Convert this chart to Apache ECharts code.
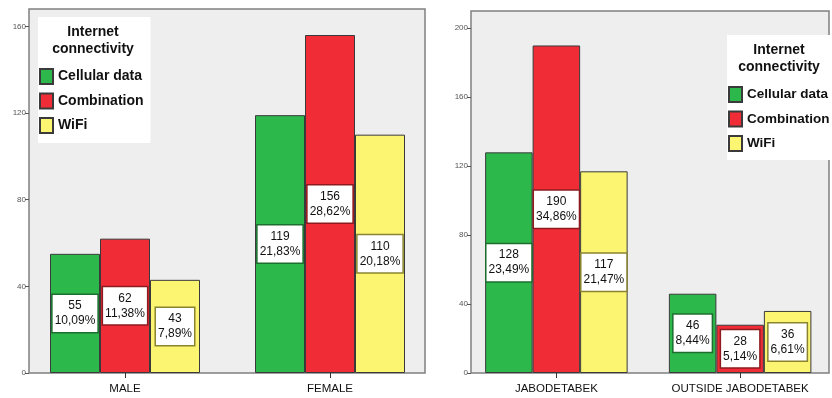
<!DOCTYPE html>
<html><head><meta charset="utf-8">
<script src="https://cdn.jsdelivr.net/npm/echarts@6/dist/echarts.min.js"></script>
<style>html,body{margin:0;padding:0;background:#fff}#c{width:832px;height:398px}</style>
</head><body><div id="c"></div>
<script>
const seriesNames = ['Cellular data', 'Combination', 'WiFi'];

const genderCats = ['MALE', 'FEMALE'];
const genderCellular = [55, 119];
const genderCombination = [62, 156];
const genderWifi = [43, 110];
const genderCellularPct = ['10,09%', '21,83%'];
const genderCombinationPct = ['11,38%', '28,62%'];
const genderWifiPct = ['7,89%', '20,18%'];
const genderTicks = [0, 40, 80, 120, 160];

const regionCats = ['JABODETABEK', 'OUTSIDE JABODETABEK'];
const regionCellular = [128, 46];
const regionCombination = [190, 28];
const regionWifi = [117, 36];
const regionCellularPct = ['23,49%', '8,44%'];
const regionCombinationPct = ['34,86%', '5,14%'];
const regionWifiPct = ['21,47%', '6,61%'];
const regionTicks = [0, 40, 80, 120, 160, 200];

const FONT = '"Liberation Sans", Arial, sans-serif';
const fills = ['#2db84b', '#f02d37', '#fbf571'];
const labelBorders = ['#1d6e2e', '#8e1a1f', '#8a8431'];

function makeSeries(idx, values, pcts, panel, barWidth) {
  return {
    name: seriesNames[idx],
    type: 'bar',
    xAxisIndex: panel,
    yAxisIndex: panel,
    data: values,
    barWidth: barWidth,
    barGap: '0%',
    itemStyle: { color: fills[idx], borderColor: '#3a3a3a', borderWidth: 1 },
    label: {
      show: true,
      position: 'inside',
      formatter: p => p.value + '\n' + pcts[p.dataIndex],
      backgroundColor: '#fff',
      borderColor: labelBorders[idx],
      borderWidth: 1.5,
      padding: [4, 2, 3, 2],
      fontSize: 12,
      lineHeight: 15,
      color: '#111',
      fontFamily: FONT,
      align: 'center'
    }
  };
}

function xAx(panel, cats) {
  return {
    type: 'category', gridIndex: panel, data: cats,
    axisLine: { show: false },
    axisTick: { show: true, alignWithLabel: true, length: 5, lineStyle: { color: '#333' } },
    axisLabel: { interval: 0, fontSize: 11.5, color: '#111', margin: 10, fontFamily: FONT }
  };
}
function yAx(panel, max, ticks) {
  return {
    type: 'value', gridIndex: panel, min: 0, max: max, offset: -6.5,
    axisLine: { show: false },
    splitLine: { show: false },
    axisTick: { show: true, length: 4, customValues: ticks, lineStyle: { color: '#555' } },
    axisLabel: { customValues: ticks, fontSize: 8, color: '#555', margin: 3, fontFamily: FONT }
  };
}

const titleStyle = { fontSize: 14, fontWeight: 'bold', lineHeight: 17, fontFamily: FONT, color: '#111' };
const legendBase = {
  orient: 'vertical', data: seriesNames, backgroundColor: '#fff', icon: 'rect',
  itemWidth: 13, itemHeight: 15, itemGap: 7.5,
  textStyle: { fontSize: 14, fontWeight: 'bold', color: '#111', fontFamily: FONT }
};

const chart = echarts.init(document.getElementById('c'), null, { renderer: 'canvas' });
chart.setOption({
  animation: false,
  backgroundColor: '#fff',
  graphic: [
    { type: 'rect', z: -1, shape: { x: 29, y: 9, width: 396, height: 364 }, style: { fill: '#eeeeee', stroke: '#808080', lineWidth: 1.5 } },
    { type: 'rect', z: -1, shape: { x: 471, y: 11, width: 358, height: 362 }, style: { fill: '#eeeeee', stroke: '#808080', lineWidth: 1.5 } }
  ],
  title: [
    { text: 'Internet\nconnectivity', left: 93, top: 24, textAlign: 'center', padding: 0, textStyle: titleStyle },
    { text: 'Internet\nconnectivity', left: 779, top: 42, textAlign: 'center', padding: 0, textStyle: titleStyle }
  ],
  legend: [
    Object.assign({}, legendBase, { left: 38, top: 17, padding: [51, 7, 9, 1] }),
    Object.assign({}, legendBase, { left: 727, top: 35, padding: [51, 4, 8, 1],
      textStyle: { fontSize: 13.5, fontWeight: 'bold', color: '#111', fontFamily: FONT } })
  ],
  grid: [
    { left: 22.5, width: 410, top: 9, bottom: 25 },
    { left: 464.5, width: 384, top: 11, bottom: 25 }
  ],
  xAxis: [xAx(0, genderCats), xAx(1, regionCats)],
  yAxis: [yAx(0, 168, genderTicks), yAx(1, 210, regionTicks)],
  series: [
    makeSeries(0, genderCellular, genderCellularPct, 0, 50),
    makeSeries(1, genderCombination, genderCombinationPct, 0, 50),
    makeSeries(2, genderWifi, genderWifiPct, 0, 50),
    makeSeries(0, regionCellular, regionCellularPct, 1, 47.5),
    makeSeries(1, regionCombination, regionCombinationPct, 1, 47.5),
    makeSeries(2, regionWifi, regionWifiPct, 1, 47.5)
  ]
});
</script></body></html>
